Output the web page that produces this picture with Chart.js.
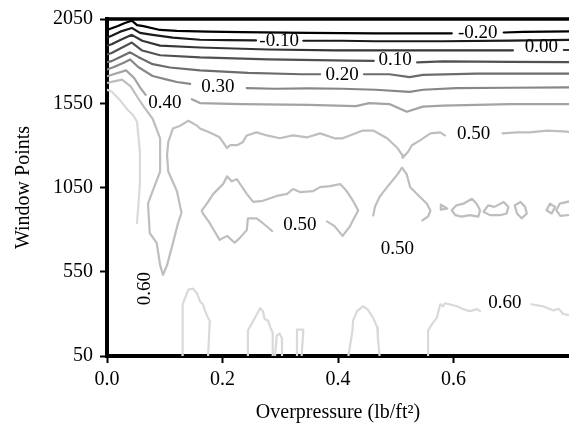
<!DOCTYPE html>
<html>
<head>
<meta charset="utf-8">
<script src="https://cdn.jsdelivr.net/npm/chart.js@4"></script>
<style>
  html, body { margin: 0; padding: 0; background: #fff; }
  #wrap { width: 569px; height: 431px; }
</style>
</head>
<body>
<div id="wrap"><canvas id="contourChart"></canvas></div>
<script>
// Contour levels, darkest first
const levels = [-0.2, -0.1, 0.0, 0.1, 0.2, 0.3, 0.4, 0.5, 0.6];

// Each level is a list of polyline segments of [overpressure, window points]
const contourM020 = [
  [[0, 1985], [0.019, 2008], [0.031, 2026], [0.043, 2040], [0.052, 2014], [0.063, 2008], [0.092, 1985], [0.121, 1979], [0.175, 1975], [0.233, 1972], [0.349, 1968], [0.465, 1965], [0.597, 1965]],
  [[0.687, 1970], [0.721, 1974], [0.81, 1977]]
];
const contourM010 = [
  [[0, 1939], [0.008, 1950], [0.023, 1975], [0.043, 1997], [0.057, 1968], [0.079, 1956], [0.114, 1939], [0.161, 1927], [0.209, 1925], [0.258, 1923]],
  [[0.340, 1921], [0.407, 1921], [0.465, 1918], [0.582, 1918], [0.698, 1922], [0.81, 1927]]
];
const contour000 = [
  [[0, 1892], [0.008, 1900], [0.023, 1925], [0.043, 1956], [0.061, 1921], [0.092, 1892], [0.161, 1881], [0.279, 1869], [0.396, 1864], [0.524, 1864], [0.703, 1864]],
  [[0.791, 1866], [0.81, 1866]]
];
const contour010 = [
  [[0, 1840], [0.008, 1848], [0.023, 1875], [0.043, 1910], [0.061, 1863], [0.092, 1835], [0.161, 1822], [0.279, 1810], [0.421, 1803], [0.462, 1802]],
  [[0.537, 1792], [0.582, 1798], [0.698, 1796], [0.81, 1794]]
];
const contour020 = [
  [[0, 1794], [0.008, 1800], [0.023, 1825], [0.040, 1852], [0.054, 1825], [0.079, 1782], [0.109, 1762], [0.161, 1745], [0.244, 1730], [0.337, 1722], [0.369, 1722]],
  [[0.445, 1722], [0.489, 1722], [0.524, 1705], [0.547, 1718], [0.640, 1726], [0.81, 1726]]
];
const contour030 = [
  [[0, 1750], [0.012, 1765], [0.029, 1790], [0.040, 1810], [0.054, 1765], [0.079, 1712], [0.104, 1690], [0.121, 1676], [0.144, 1665]],
  [[0.242, 1640], [0.291, 1636], [0.349, 1638], [0.407, 1636], [0.465, 1630], [0.524, 1618], [0.547, 1630], [0.605, 1640], [0.698, 1642], [0.81, 1645]]
];
const contour040 = [
  [[0, 1710], [0.014, 1725], [0.033, 1745], [0.047, 1700], [0.058, 1640], [0.067, 1600]],
  [[0.147, 1574], [0.161, 1551], [0.233, 1545], [0.349, 1540], [0.431, 1533], [0.454, 1551], [0.489, 1545], [0.519, 1500], [0.547, 1530], [0.582, 1536], [0.640, 1540], [0.698, 1545], [0.81, 1545]]
];
const contour050 = [
  // from the axis, down the narrow trough and back up, then across
  [[0, 1670], [0.012, 1680], [0.026, 1690], [0.041, 1650], [0.052, 1590], [0.063, 1533], [0.079, 1458], [0.092, 1342], [0.092, 1145], [0.079, 1029], [0.071, 954], [0.074, 780], [0.086, 722], [0.092, 589], [0.097, 531], [0.104, 589], [0.113, 705], [0.123, 838], [0.129, 900], [0.121, 1029], [0.106, 1145], [0.104, 1244], [0.106, 1319], [0.114, 1400], [0.127, 1417], [0.141, 1446], [0.156, 1417], [0.161, 1400], [0.178, 1377], [0.195, 1348], [0.208, 1284], [0.213, 1301], [0.225, 1301], [0.235, 1319], [0.242, 1359], [0.259, 1377], [0.277, 1359], [0.299, 1342], [0.322, 1359], [0.347, 1348], [0.369, 1371], [0.394, 1342], [0.408, 1342], [0.443, 1388], [0.461, 1388], [0.485, 1342], [0.503, 1284], [0.511, 1244], [0.512, 1226], [0.521, 1261], [0.528, 1301], [0.542, 1330], [0.560, 1371], [0.577, 1377], [0.585, 1359]],
  [[0.685, 1371], [0.710, 1377], [0.732, 1377], [0.762, 1388], [0.790, 1383], [0.81, 1377]],
  // closed loop in the middle
  [[0.381, 849], [0.394, 821], [0.408, 763], [0.421, 821], [0.426, 855], [0.435, 913], [0.426, 971], [0.415, 1029], [0.404, 1070], [0.386, 1058], [0.369, 1052], [0.357, 1029], [0.334, 1023], [0.322, 1041], [0.312, 1012], [0.294, 1000], [0.270, 971], [0.253, 965], [0.242, 1012], [0.225, 1099], [0.216, 1087], [0.208, 1116], [0.201, 1070], [0.184, 1012], [0.173, 954], [0.164, 913], [0.166, 896], [0.178, 838], [0.195, 739], [0.208, 763], [0.221, 722], [0.230, 751], [0.242, 797], [0.244, 867], [0.259, 867], [0.270, 838], [0.286, 792]],
  // peak under the saddle
  [[0.461, 884], [0.464, 936], [0.472, 994], [0.485, 1052], [0.503, 1128], [0.511, 1168], [0.519, 1128], [0.525, 1052], [0.542, 994], [0.554, 954], [0.560, 913], [0.556, 878], [0.546, 855]],
  // small islands
  [[0.578, 948], [0.589, 925], [0.578, 919], [0.578, 948]],
  [[0.597, 915], [0.605, 944], [0.617, 954], [0.632, 983], [0.640, 954], [0.646, 915], [0.643, 877], [0.628, 886], [0.614, 877], [0.603, 886], [0.597, 915]],
  [[0.652, 906], [0.660, 944], [0.671, 935], [0.687, 964], [0.695, 935], [0.692, 896], [0.681, 886], [0.663, 886], [0.652, 906]],
  [[0.706, 944], [0.716, 964], [0.724, 935], [0.727, 896], [0.718, 867], [0.710, 896], [0.706, 944]],
  [[0.761, 915], [0.767, 954], [0.776, 935], [0.770, 896], [0.761, 915]],
  [[0.81, 975], [0.784, 954], [0.778, 915], [0.785, 882], [0.81, 890]]
];
const contour060 = [
  [[0, 1630], [0.008, 1620], [0.022, 1570], [0.036, 1510], [0.045, 1480], [0.052, 1440], [0.057, 1261], [0.057, 1070], [0.052, 838]],
  [[0.130, 50], [0.131, 357], [0.141, 444], [0.149, 450], [0.156, 421], [0.161, 374], [0.166, 357], [0.170, 316], [0.175, 276], [0.178, 259], [0.175, 50]],
  [[0.244, 50], [0.244, 201], [0.256, 276], [0.265, 334], [0.270, 316], [0.273, 270], [0.279, 259], [0.283, 218], [0.287, 189], [0.287, 50]],
  [[0.291, 50], [0.294, 172], [0.299, 183], [0.303, 154], [0.303, 50]],
  [[0.329, 50], [0.329, 206], [0.340, 206], [0.337, 50]],
  [[0.418, 50], [0.425, 201], [0.426, 259], [0.433, 316], [0.443, 345], [0.451, 328], [0.461, 276], [0.468, 218], [0.469, 160], [0.472, 50]],
  [[0.556, 50], [0.556, 201], [0.563, 241], [0.571, 276], [0.577, 357], [0.582, 345], [0.585, 363], [0.593, 357], [0.606, 345], [0.617, 328], [0.628, 316], [0.641, 328], [0.646, 316]],
  [[0.735, 357], [0.755, 345], [0.773, 320], [0.782, 330], [0.790, 299], [0.81, 285]]
];
const contours = [contourM020, contourM010, contour000, contour010, contour020, contour030, contour040, contour050, contour060];

// Inline level labels
const labelText = ['-0.20', '-0.10', '0.00', '0.10', '0.20', '0.30', '0.40', '0.50', '0.50', '0.50', '0.60', '0.60'];
const labelX = [0.642, 0.298, 0.752, 0.499, 0.407, 0.192, 0.100, 0.635, 0.334, 0.503, 0.689, 0.066];
const labelY = [1968, 1921, 1881, 1806, 1719, 1649, 1551, 1365, 826, 682, 363, 450];

const xTicks = [0.0, 0.2, 0.4, 0.6];
const yTicks = [50, 550, 1050, 1550, 2050];

// gray ramp from black to light gray over the levels
function levelColor(i) {
  const g = Math.round(255 * 0.85 * i / (levels.length - 1));
  return `rgb(${g},${g},${g})`;
}

const datasets = [];
contours.forEach((segments, i) => {
  segments.forEach(seg => {
    datasets.push({
      label: levels[i].toFixed(2),
      data: seg.map(p => ({ x: p[0], y: p[1] })),
      showLine: true,
      borderColor: levelColor(i),
      borderWidth: 2.2,
      borderJoinStyle: 'round',
      borderCapStyle: 'round',
      pointRadius: 0,
      tension: 0,
      fill: false,
      clip: 0
    });
  });
});

// the label on the narrow trough runs up the line
const labelAngle = labelText.map((t, i) => (i === labelText.length - 1 ? -90 : 0));

const contourLabels = {
  id: 'contourLabels',
  afterDatasetsDraw(chart) {
    const { ctx, scales: { x, y } } = chart;
    ctx.save();
    ctx.fillStyle = '#000';
    ctx.font = '19px "Liberation Serif"';
    ctx.textAlign = 'center';
    ctx.textBaseline = 'middle';
    labelText.forEach((t, i) => {
      ctx.save();
      ctx.translate(x.getPixelForValue(labelX[i]), y.getPixelForValue(labelY[i]));
      if (labelAngle[i]) ctx.rotate(labelAngle[i] * Math.PI / 180);
      ctx.fillText(t, 0, 0);
      ctx.restore();
    });
    ctx.restore();
  },
  afterDraw(chart) {
    // heavy frame line along the top
    const { ctx, chartArea } = chart;
    ctx.save();
    ctx.strokeStyle = '#000';
    ctx.lineWidth = 3.5;
    ctx.beginPath();
    ctx.moveTo(chartArea.left - 2, chartArea.top);
    ctx.lineTo(chartArea.right, chartArea.top);
    ctx.stroke();
    ctx.restore();
  }
};

Chart.defaults.font.family = '"Liberation Serif", "DejaVu Serif", serif';
Chart.defaults.color = '#000';

new Chart(document.getElementById('contourChart'), {
  type: 'scatter',
  data: { datasets },
  options: {
    responsive: true,
    maintainAspectRatio: false,
    animation: false,
    events: [],
    layout: { padding: { top: 12, right: 0, bottom: 0, left: 0 } },
    plugins: { legend: { display: false }, tooltip: { enabled: false } },
    scales: {
      x: {
        type: 'linear',
        min: 0,
        max: 0.8,
        z: 1,
        afterBuildTicks: s => { s.ticks = xTicks.map(v => ({ value: v })); },
        afterFit: s => { s.height = 75; },
        ticks: { font: { size: 20 }, padding: 5, maxRotation: 0, callback: v => v.toFixed(1) },
        grid: { display: true, drawOnChartArea: false, drawTicks: true, tickLength: 7, tickWidth: 2, tickColor: '#000' },
        border: { display: true, color: '#000', width: 4 },
        title: { display: true, text: 'Overpressure (lb/ft²)', font: { size: 20 }, padding: { top: 0, bottom: 6 } }
      },
      y: {
        type: 'linear',
        min: 50,
        max: 2050,
        z: 1,
        afterBuildTicks: s => { s.ticks = yTicks.map(v => ({ value: v })); },
        afterFit: s => { s.width = 107; },
        ticks: { font: { size: 20 }, padding: 7, callback: v => String(v) },
        grid: { display: true, drawOnChartArea: false, drawTicks: true, tickLength: 7, tickWidth: 2, tickColor: '#000' },
        border: { display: true, color: '#000', width: 4 },
        title: { display: true, text: 'Window Points', font: { size: 20 }, padding: { top: 12, bottom: 0 } }
      }
    }
  },
  plugins: [contourLabels]
});
</script>
</body>
</html>
